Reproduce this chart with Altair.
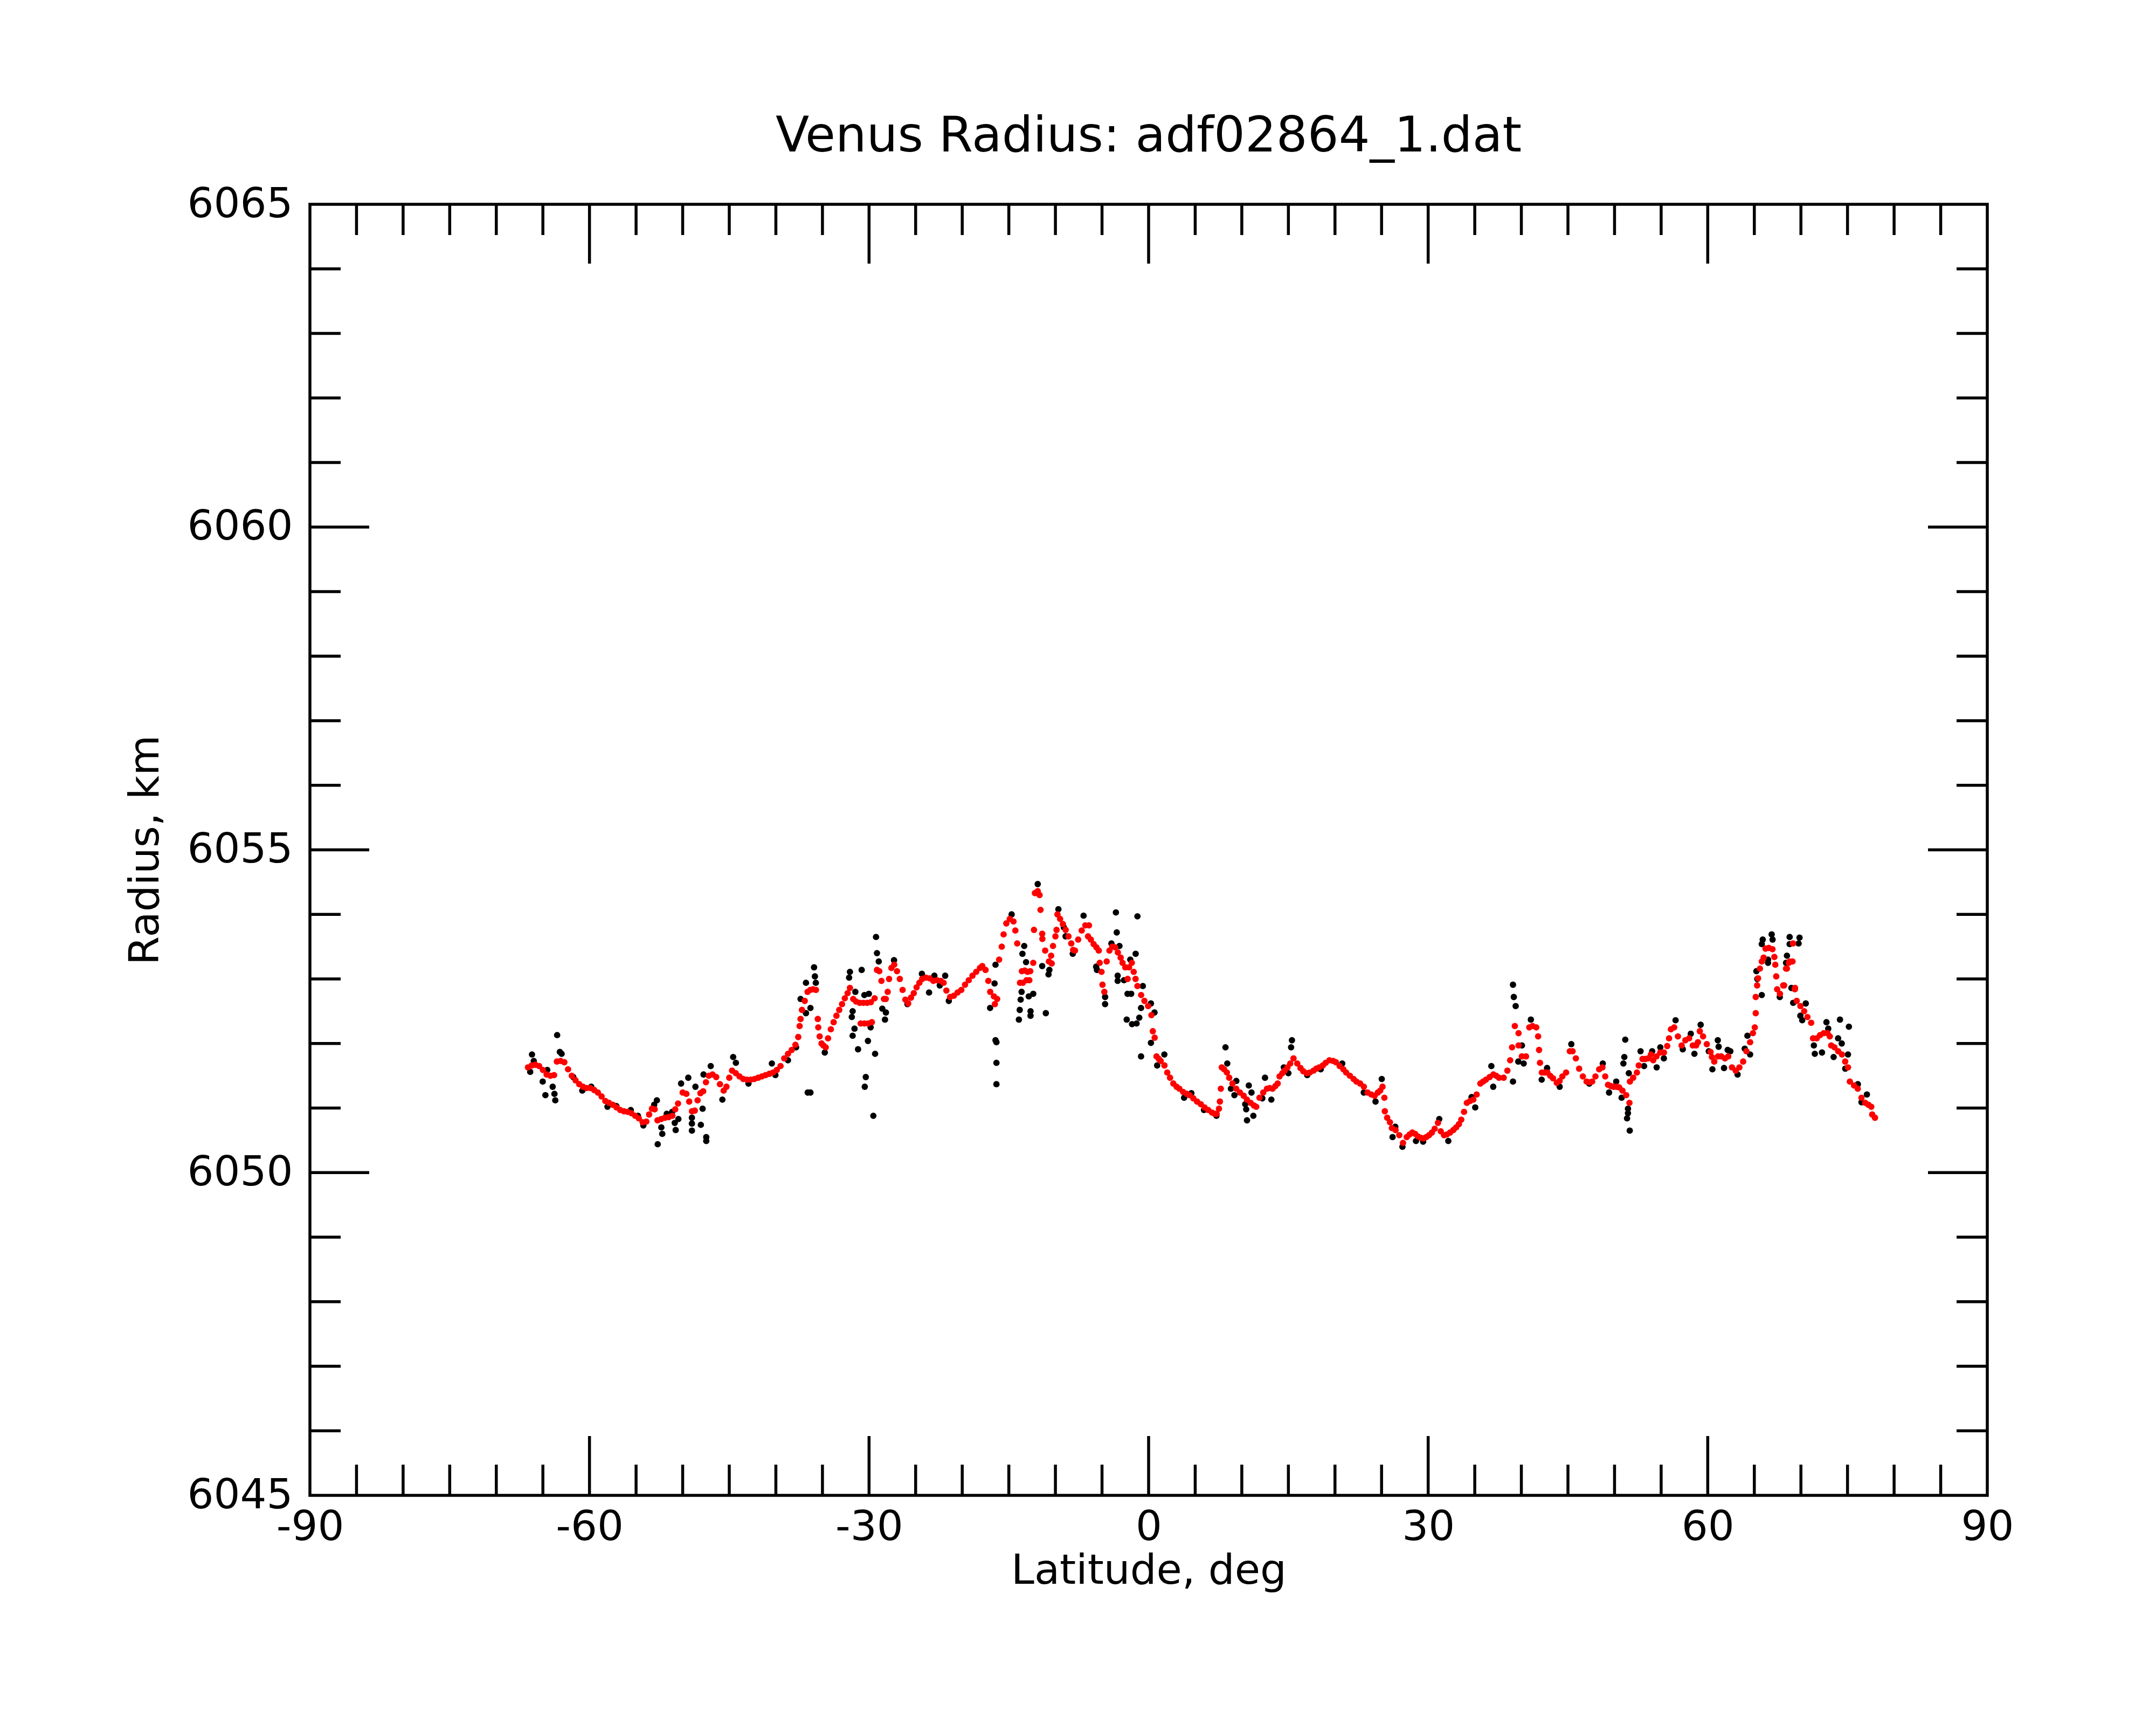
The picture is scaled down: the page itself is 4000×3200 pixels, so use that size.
import altair as alt
import pandas as pd

# ---------------- data ----------------
red_lat = [
    -66.6, -66.2, -65.8, -65.4, -65.0, -64.6, -64.2, -63.8, -63.5, -63.1, -62.7, -62.3, -61.9, -61.5, -61.1,
    -60.7, -60.3, -59.9, -59.5, -59.1, -58.7, -58.3, -57.9, -57.5, -57.1, -56.7, -56.3, -55.9, -55.5, -55.1,
    -54.7, -54.3, -53.9, -53.6, -53.3, -53.0, -52.7, -52.3, -51.9, -51.5, -51.1, -50.8, -50.5, -50.0, -49.6,
    -49.3, -49.0, -48.7, -48.4, -48.1, -47.8, -47.5, -47.2, -46.8, -46.4, -46.0, -45.6, -45.3, -45.0, -44.7,
    -44.3, -43.9, -43.5, -43.1, -42.7, -42.3, -41.9, -41.5, -41.1, -40.7, -40.3, -39.9, -39.5, -39.1, -38.7,
    -38.3, -37.9, -37.6, -37.45, -37.35, -37.2, -36.9, -36.6,
    -36.3, -36.0, -35.7, -35.5, -35.45, -35.3, -35.1, -34.9, -34.65, -34.4, -34.1, -33.8, -33.5, -33.2, -32.9,
    -32.6, -32.3, -32.05, -31.7, -31.4, -31.0, -30.6, -30.2, -29.8, -29.4, -30.9, -30.5, -30.1, -29.7, -29.15,
    -28.9, -28.67, -28.4, -28.2, -28.0, -27.85, -27.6, -27.3, -27.0, -26.7, -26.4, -26.1, -25.8, -25.5, -25.2,
    -24.9, -24.6, -24.3, -23.9, -23.5, -23.1, -22.7, -22.3, -22.0, -21.7, -21.3, -20.9, -20.5, -20.1, -19.7,
    -19.3, -18.9, -18.5, -18.1, -17.85, -17.5, -17.2, -17.0, -16.6, -16.25, -16.5, -16.04, -15.76, -15.56, -15.27,
    -14.9, -14.5, -14.3, -14.1, -13.8, -13.5, -13.6, -13.3, -13.0, -12.7, -13.1, -12.8, -12.38, -12.3, -12.2,
    -11.9, -11.7, -11.6, -11.42, -11.4, -11.1, -10.46, -10.7, -10.4, -10.26, -9.88, -10.0, -9.78, -9.5, -9.2,
    -8.9, -8.6, -8.3, -8.1, -7.9, -7.56, -7.18, -6.79, -6.5,
    -6.4, -6.2, -5.9, -5.6, -5.35, -5.25, -5.05, -4.95, -4.75, -4.5, -4.2, -3.9, -3.6, -3.3, -3.0,
    -2.8, -2.5, -2.25, -2.1, -1.8, -1.6, -1.4, -1.2, -0.8, -0.45, -0.05, 0.3, 0.45, 0.65, 0.85,
    1.1, 1.3, 1.7, 2.0, 2.3, 2.65, 3.0, 3.3, 3.7, 4.1, 4.4, 4.8, 5.2, 5.6, 6.0,
    6.4, 6.8, 7.1, 7.3, 7.55, 7.65, 7.75, 7.85, 8.1, 8.4, 8.65, 9.0, 9.4, 9.8, 10.2,
    10.55, 10.95, 11.3, 11.55, 11.9, 12.3, 12.7, 13.0, 13.3, 13.6, 13.85, 14.05, 14.35, 14.6, 14.9,
    15.2, 15.55, 15.95, 16.3, 16.6, 17.0, 17.3, 17.7, 18.0, 18.3, 18.7, 19.0, 19.4, 19.8, 20.1,
    20.5, 20.9, 21.2, 21.6, 22.0, 22.3, 22.7, 23.1, 23.5,
    23.9, 24.25, 24.6, 24.85, 25.1, 25.3, 25.35, 25.6, 25.9, 26.1, 26.5, 26.9, 27.3, 27.7, 28.0,
    28.3, 28.6, 28.9, 29.2, 29.5, 29.8, 30.1, 30.4, 30.7, 31.05, 31.35, 31.7, 32.0, 32.35, 32.7,
    33.0, 33.3, 33.55, 33.85, 34.15, 34.5, 34.85, 35.2, 35.6, 35.9, 36.2, 36.6, 37.0, 37.3, 37.6,
    38.1, 38.5, 38.8, 39.0, 39.3, 39.7, 39.7, 40.05, 40.5, 40.85, 41.2, 41.6, 41.8, 41.9, 42.0,
    42.2, 42.5, 42.8, 43.1, 43.4, 43.8, 44.1, 44.4, 44.8, 45.2, 45.5, 45.85, 46.2, 46.6, 47.0,
    47.3, 47.6, 47.95, 48.35, 48.7, 49.0, 49.3, 49.6, 49.9, 50.2, 50.5, 50.85, 51.25, 51.6, 51.65,
    52.0, 52.4, 52.6, 53.0, 53.3, 53.6,
    53.9, 54.15, 54.5, 54.9, 55.3, 55.65, 55.85, 56.05, 56.4, 56.8, 57.2, 57.6, 58.0, 58.4, 58.75,
    58.95, 59.15, 59.5, 59.9, 60.3, 60.45, 60.7, 61.1, 61.45, 61.85, 62.2, 62.6, 63.0, 63.4, 63.8,
    64.15, 64.55, 64.85, 65.05, 65.15, 65.15, 65.3, 65.4, 65.6, 65.8, 66.0, 66.2, 66.55, 66.95, 67.15,
    67.25, 67.35, 67.45, 67.75, 68.1, 68.5, 68.7, 69.15, 69.35, 69.55, 69.95, 70.35, 70.7, 71.1, 71.3,
    71.7, 72.05, 72.45, 72.85, 73.1, 73.25, 73.6, 74.0, 74.4, 74.75, 75.05, 75.25, 75.7, 76.1, 76.5,
    76.9, 77.25, 77.55, 77.65, 77.95, 68.2, 68.8, 69.1, 68.4, 69.37,
]
red_r = [
    6051.63, 6051.66, 6051.67, 6051.65, 6051.59, 6051.52, 6051.50, 6051.51, 6051.72, 6051.73, 6051.71, 6051.60, 6051.50, 6051.43, 6051.37,
    6051.33, 6051.31, 6051.31, 6051.28, 6051.24, 6051.18, 6051.11, 6051.08, 6051.05, 6051.01, 6050.97, 6050.95, 6050.94, 6050.92, 6050.88,
    6050.84, 6050.78, 6050.79, 6050.90, 6050.99, 6050.98, 6050.81, 6050.83, 6050.85, 6050.86, 6050.88, 6050.98, 6051.07, 6051.24, 6051.22,
    6051.10, 6050.95, 6050.96, 6051.12, 6051.23, 6051.26, 6051.40, 6051.50, 6051.52, 6051.48, 6051.37, 6051.27, 6051.33, 6051.47, 6051.58,
    6051.54, 6051.49, 6051.45, 6051.44, 6051.44, 6051.45, 6051.47, 6051.49, 6051.51, 6051.53, 6051.55, 6051.59, 6051.65, 6051.77, 6051.84,
    6051.90, 6051.98, 6052.10, 6052.27, 6052.38, 6052.52, 6052.66, 6052.80,
    6052.83, 6052.84, 6052.83, 6052.38, 6052.25, 6052.11, 6052.00, 6051.97, 6051.94, 6052.08, 6052.22, 6052.33, 6052.43, 6052.52, 6052.61,
    6052.70, 6052.78, 6052.86, 6052.69, 6052.65, 6052.63, 6052.63, 6052.63, 6052.64, 6052.70, 6052.31, 6052.31, 6052.31, 6052.33, 6053.14,
    6053.12, 6052.97, 6052.69, 6052.69, 6052.80, 6053.00, 6053.17, 6053.22, 6053.12, 6053.00, 6052.83, 6052.68, 6052.62, 6052.71, 6052.78,
    6052.87, 6052.94, 6053.00, 6053.02, 6053.01, 6052.97, 6052.98, 6052.97, 6052.94, 6052.82, 6052.72, 6052.74, 6052.79, 6052.83, 6052.91,
    6052.98, 6053.05, 6053.11, 6053.17, 6053.20, 6053.14, 6052.97, 6052.80, 6052.73, 6052.69, 6052.61, 6053.30, 6053.50, 6053.69, 6053.86,
    6053.93, 6053.89, 6053.75, 6053.55, 6052.94, 6052.94, 6053.12, 6053.13, 6053.11, 6053.12, 6052.98, 6052.98, 6053.25, 6053.76, 6054.33,
    6054.36, 6054.30, 6054.07, 6053.70, 6053.62, 6053.44, 6053.36, 6053.27, 6053.24, 6053.51, 6053.76, 6053.66, 6054.00, 6053.93, 6053.85,
    6053.76, 6053.66, 6053.55, 6053.45, 6053.44, 6053.61, 6053.75, 6053.83, 6053.66,
    6053.83, 6053.61, 6053.54, 6053.49, 6053.44, 6053.25, 6053.11, 6052.91, 6052.80, 6053.27, 6053.44, 6053.50, 6053.49, 6053.41, 6053.33,
    6053.25, 6053.18, 6053.00, 6053.18, 6053.25, 6053.11, 6053.00, 6052.89, 6052.75, 6052.66, 6052.58, 6052.44, 6052.19, 6052.09, 6051.80,
    6051.76, 6051.73, 6051.66, 6051.55, 6051.47, 6051.38, 6051.33, 6051.30, 6051.25, 6051.22, 6051.20, 6051.15, 6051.10, 6051.06, 6051.01,
    6050.97, 6050.93, 6050.91, 6050.91, 6050.99, 6051.10, 6051.30, 6051.63, 6051.60, 6051.55, 6051.47, 6051.38, 6051.30, 6051.24, 6051.19,
    6051.13, 6051.08, 6051.04, 6051.02, 6051.16, 6051.24, 6051.30, 6051.31, 6051.30, 6051.34, 6051.38, 6051.49, 6051.54, 6051.58, 6051.63,
    6051.69, 6051.77, 6051.69, 6051.62, 6051.57, 6051.54, 6051.55, 6051.58, 6051.61, 6051.63, 6051.66, 6051.70, 6051.74, 6051.73, 6051.71,
    6051.65, 6051.60, 6051.55, 6051.50, 6051.45, 6051.41, 6051.38, 6051.33, 6051.24,
    6051.21, 6051.19, 6051.24, 6051.27, 6051.33, 6051.16, 6050.95, 6050.85, 6050.78, 6050.69, 6050.66, 6050.58, 6050.46, 6050.55, 6050.59,
    6050.62, 6050.60, 6050.56, 6050.54, 6050.53, 6050.55, 6050.58, 6050.62, 6050.68, 6050.77, 6050.64, 6050.58, 6050.59, 6050.62, 6050.66,
    6050.70, 6050.75, 6050.82, 6050.94, 6051.08, 6051.11, 6051.13, 6051.21, 6051.38, 6051.41, 6051.44, 6051.48, 6051.52, 6051.50, 6051.47,
    6051.47, 6051.58, 6051.74, 6051.94, 6052.27, 6052.16, 6051.97, 6051.80, 6051.80, 6052.25, 6052.27, 6052.25, 6052.11, 6051.90, 6051.70,
    6051.55, 6051.55, 6051.55, 6051.50, 6051.46, 6051.39, 6051.42, 6051.49, 6051.55, 6051.88, 6051.88, 6051.77, 6051.61, 6051.49, 6051.41,
    6051.40, 6051.41, 6051.49, 6051.60, 6051.63, 6051.49, 6051.36, 6051.34, 6051.33, 6051.33, 6051.32, 6051.27, 6051.20, 6051.08, 6051.41,
    6051.47, 6051.55, 6051.66, 6051.76, 6051.76, 6051.77,
    6051.83, 6051.74, 6051.80, 6051.86, 6051.86, 6051.96, 6052.08, 6052.22, 6052.25, 6052.11, 6051.97, 6052.05, 6052.08, 6051.97, 6051.97,
    6052.02, 6052.19, 6052.11, 6051.99, 6051.87, 6051.79, 6051.72, 6051.80, 6051.80, 6051.77, 6051.80, 6051.63, 6051.58, 6051.63, 6051.72,
    6051.88, 6052.02, 6052.16, 6052.25, 6052.47, 6052.72, 6052.90, 6053.01, 6053.16, 6053.27, 6053.33, 6053.47, 6053.48, 6053.46, 6053.34,
    6053.22, 6053.04, 6052.84, 6052.77, 6052.90, 6053.16, 6053.25, 6053.55, 6052.84, 6052.66, 6052.58, 6052.50, 6052.41, 6052.32, 6052.08,
    6052.08, 6052.13, 6052.16, 6052.16, 6052.11, 6051.97, 6051.94, 6051.88, 6051.83, 6051.72, 6051.63, 6051.41, 6051.35, 6051.30, 6051.16,
    6051.08, 6051.05, 6051.02, 6050.90, 6050.85, 6052.90, 6053.27, 6053.27, 6053.16, 6052.86,
]

black_lat = [
    -66.17, -66.36, -65.98, -65.02, -64.73, -64.53, -63.95, -63.76, -63.67, -63.47, -63.18, -62.99, -61.74, -60.77, -59.81,
    -58.07, -57.11, -55.57, -54.80, -54.22, -52.77, -53.06, -52.68, -52.19, -52.29, -51.71, -51.13, -50.75, -50.85, -50.46,
    -50.17, -49.40, -49.01, -49.01, -49.01, -48.63, -48.05, -47.86, -47.47, -47.47, -47.76, -46.99, -45.74, -44.58, -44.29,
    -42.94, -40.43, -40.05, -38.70, -37.83, -37.35, -36.77, -36.77, -36.58,
    -36.29, -35.90, -35.81, -35.71, -36.29, -34.75, -32.05, -32.14, -31.47, -31.85, -31.76, -31.56, -31.76, -31.18, -30.79,
    -30.50, -30.12, -30.02, -29.83, -29.25, -29.15, -28.96, -29.35, -30.35, -30.46, -29.54, -28.58, -28.19, -28.29, -27.32,
    -25.88, -24.33, -23.56, -22.99, -22.41, -21.83, -21.44, -17.01, -16.53, -16.43, -16.43, -16.33, -16.33, -16.33, -14.70,
    -13.92, -13.83, -13.73, -13.63, -13.54, -13.35, -13.15, -12.86, -12.67, -12.67, -12.38, -11.90, -11.42, -11.03, -10.74,
    -10.65, -9.68, -9.10, -8.91, -8.14, -6.98,
    -5.63, -5.54, -4.67, -4.67, -3.99, -3.51, -3.42, -3.13, -3.32, -3.32, -2.64, -2.26, -1.87, -1.97, -1.39,
    -1.20, -0.81, -1.00, -2.35, -1.78, -1.29, -0.62, 0.25, 0.63, 0.25, -0.81, 0.92, 1.69, 3.81, 4.59,
    5.94, 7.28, 8.25, 8.44, 9.41, 8.83, 9.21, 10.75, 11.04, 10.37, 10.47, 10.56, 11.24, 12.20, 12.49,
    13.17, 14.51, 15.29, 15.38, 15.00, 17.02, 18.47, 20.78, 23.09,
    25.02, 24.35, 26.47, 26.18, 27.24, 28.69, 29.46, 31.19, 32.16, 34.66, 35.05, 36.78, 36.98, 39.10, 39.19,
    39.39, 39.10, 40.06, 39.67, 40.25, 41.02, 42.18, 42.76, 44.11, 45.36, 47.29, 48.74, 49.41, 50.18, 50.76,
    51.15, 51.05, 50.95, 51.44, 51.44, 51.34, 51.63, 51.53, 52.79, 53.17,
    54.04, 54.52, 54.91, 55.29, 56.55, 57.32, 58.18, 58.57, 59.24, 60.11, 60.50, 61.08, 61.17, 61.75, 62.14,
    62.43, 63.20, 64.26, 63.97, 64.55, 65.22, 65.32, 65.80, 65.90, 65.80, 66.86, 66.96, 66.47, 66.47, 67.73,
    68.50, 68.40, 68.79, 68.79, 69.85, 69.75, 68.98, 69.17, 69.94, 70.14, 70.52, 71.39, 71.49, 72.26, 72.74,
    72.93, 74.19, 75.15, 73.99, 74.38, 73.51, 75.05, 74.76, 76.11, 77.08, 76.50,
]
black_r = [
    6051.83, 6051.56, 6051.73, 6051.41, 6051.20, 6051.59, 6051.33, 6051.22, 6051.12, 6052.13, 6051.87, 6051.84, 6051.48, 6051.27, 6051.33,
    6051.02, 6051.03, 6050.97, 6050.88, 6050.73, 6051.12, 6051.05, 6050.44, 6050.60, 6050.70, 6050.91, 6050.94, 6050.66, 6050.77, 6050.83,
    6051.38, 6051.47, 6050.85, 6050.76, 6050.65, 6051.33, 6050.74, 6050.99, 6050.55, 6050.49, 6051.52, 6051.65, 6051.13, 6051.79, 6051.70,
    6051.38, 6051.69, 6051.51, 6051.74, 6051.94, 6052.69, 6052.94, 6052.47, 6051.24,
    6051.24, 6053.18, 6053.04, 6052.94, 6052.55, 6051.86, 6053.11, 6053.02, 6052.80, 6052.41, 6052.50, 6052.23, 6052.12, 6051.91, 6053.14,
    6052.75, 6052.04, 6052.77, 6052.25, 6053.65, 6053.40, 6053.27, 6051.84, 6051.48, 6051.33, 6050.88, 6052.54, 6052.48, 6052.37, 6053.29,
    6052.61, 6053.08, 6052.79, 6053.05, 6052.90, 6053.05, 6052.66, 6052.55, 6052.93, 6053.22, 6052.05, 6052.02, 6051.70, 6051.37, 6054.00,
    6052.37, 6052.52, 6052.68, 6052.80, 6053.39, 6053.51, 6053.26, 6052.73, 6052.50, 6052.43, 6052.77, 6054.47, 6053.20, 6052.47, 6053.07,
    6053.14, 6054.08, 6053.80, 6053.66, 6053.39, 6053.98,
    6053.19, 6053.14, 6052.72, 6052.61, 6053.55, 6054.03, 6053.72, 6053.51, 6053.05, 6052.97, 6052.98, 6052.77, 6052.77, 6053.30, 6053.39,
    6053.97, 6052.55, 6052.40, 6052.37, 6052.30, 6052.31, 6052.89, 6052.62, 6052.48, 6052.01, 6051.80, 6051.66, 6051.83, 6051.16, 6051.23,
    6050.97, 6050.88, 6051.94, 6051.69, 6051.42, 6051.30, 6051.20, 6051.35, 6051.24, 6051.06, 6050.98, 6050.81, 6050.88, 6051.15, 6051.47,
    6051.13, 6051.63, 6051.94, 6052.05, 6051.54, 6051.51, 6051.60, 6051.69, 6051.24,
    6051.45, 6051.10, 6050.71, 6050.55, 6050.40, 6050.49, 6050.48, 6050.83, 6050.49, 6051.17, 6051.01, 6051.65, 6051.33, 6052.91, 6052.72,
    6052.58, 6051.41, 6051.97, 6051.72, 6051.69, 6052.37, 6051.44, 6051.62, 6051.33, 6051.99, 6051.38, 6051.69, 6051.24, 6051.41, 6051.16,
    6052.06, 6051.79, 6051.69, 6050.99, 6050.92, 6050.84, 6050.65, 6051.54, 6051.88, 6051.65,
    6051.88, 6051.63, 6051.94, 6051.77, 6052.36, 6051.91, 6052.15, 6051.84, 6052.29, 6051.88, 6051.60, 6052.05, 6051.95, 6051.62, 6051.90,
    6051.88, 6051.52, 6052.12, 6051.92, 6051.83, 6053.12, 6053.00, 6052.75, 6053.61, 6053.54, 6053.69, 6053.61, 6053.30, 6053.25, 6052.72,
    6053.36, 6053.25, 6053.65, 6053.54, 6053.64, 6053.55, 6052.86, 6052.63, 6052.43, 6052.36, 6052.62, 6051.97, 6051.84, 6051.86, 6052.33,
    6052.23, 6052.37, 6052.26, 6052.08, 6052.00, 6051.79, 6051.83, 6051.61, 6051.37, 6051.21, 6051.09,
]

x_labels = [-90, -60, -30, 0, 30, 60, 90]
y_labels = [6045, 6050, 6055, 6060, 6065]
x_major_ticks = [-60, -30, 0, 30, 60]
x_minor_ticks = [v for v in range(-85, 90, 5) if v % 30 != 0]
y_major_ticks = [6050, 6055, 6060]
y_minor_ticks = [v for v in range(6046, 6065) if v % 5 != 0]

TITLE = "Venus Radius: adf02864_1.dat"
X_TITLE = "Latitude, deg"
Y_TITLE = "Radius, km"

# ---------------- layout ----------------
W, H = 3112, 2395
MAJ, MIN = 110, 57
LW = 5.5
FONT = "DejaVu Sans"
DOT = 140
FS = 77

red_df = pd.DataFrame({"lat": red_lat, "r": red_r})
black_df = pd.DataFrame({"lat": black_lat, "r": black_r})

xscale = alt.Scale(domain=[-90, 90], nice=False, zero=False)
yscale = alt.Scale(domain=[6045, 6065], nice=False, zero=False)

xaxis = alt.Axis(
    values=x_labels, title=X_TITLE, grid=False, ticks=False, tickSize=0, domain=False,
    labelExpr="'' + datum.value", labelFlush=False, labelOverlap=False, labelBound=False, labelLimit=0,
    labelFont=FONT, labelFontSize=FS, labelColor="black", labelBaseline="alphabetic", labelPadding=82,
    titleFont=FONT, titleFontSize=FS, titleFontWeight="normal", titleColor="black",
    titleBaseline="alphabetic", titleX=W / 2, titleY=163, titleAlign="center",
)
yaxis = alt.Axis(
    values=y_labels, title=Y_TITLE, grid=False, ticks=False, tickSize=0, domain=False,
    format="d", labelFlush=False, labelOverlap=False, labelBound=False, labelLimit=0,
    labelFont=FONT, labelFontSize=FS, labelColor="black", labelAlign="right", labelBaseline="middle",
    labelPadding=32,
    titleFont=FONT, titleFontSize=FS, titleFontWeight="normal", titleColor="black",
    titleAngle=270, titleBaseline="alphabetic", titleAlign="center", titleX=-282, titleY=H / 2,
)

X = alt.X("lat:Q", scale=xscale, axis=xaxis)
Y = alt.Y("r:Q", scale=yscale, axis=yaxis)

black_pts = alt.Chart(black_df).mark_circle(size=DOT, color="#000000", opacity=1).encode(x=X, y=Y)
red_pts = alt.Chart(red_df).mark_circle(size=DOT, color="#ff0000", opacity=1).encode(x=X, y=Y)


def xticks(vals, length):
    d = pd.DataFrame({"lat": vals})
    base = alt.Chart(d).mark_rule(color="black", strokeWidth=LW, strokeCap="butt")
    bottom = base.encode(x=X, y=alt.value(H), y2=alt.value(H - length))
    top = base.encode(x=X, y=alt.value(0), y2=alt.value(length))
    return [bottom, top]


def yticks(vals, length):
    d = pd.DataFrame({"r": vals})
    base = alt.Chart(d).mark_rule(color="black", strokeWidth=LW, strokeCap="butt")
    left = base.encode(y=Y, x=alt.value(0), x2=alt.value(length))
    right = base.encode(y=Y, x=alt.value(W), x2=alt.value(W - length))
    return [left, right]


layers = [black_pts, red_pts]
layers += xticks(x_major_ticks, MAJ) + xticks(x_minor_ticks, MIN)
layers += yticks(y_major_ticks, MAJ) + yticks(y_minor_ticks, MIN)

chart = alt.layer(*layers).properties(
    width=W,
    height=H,
    title=alt.TitleParams(
        TITLE, font=FONT, fontSize=91, fontWeight="normal", color="black",
        anchor="middle", frame="group", baseline="alphabetic", offset=0, dy=32,
    ),
    autosize=alt.AutoSizeParams(type="none"),
    padding={"left": 567, "top": 371, "right": 305, "bottom": 418},
    background="white",
).configure_view(stroke="black", strokeWidth=LW)

chart.save("out.html", embed_options={"renderer": "svg", "actions": False})
